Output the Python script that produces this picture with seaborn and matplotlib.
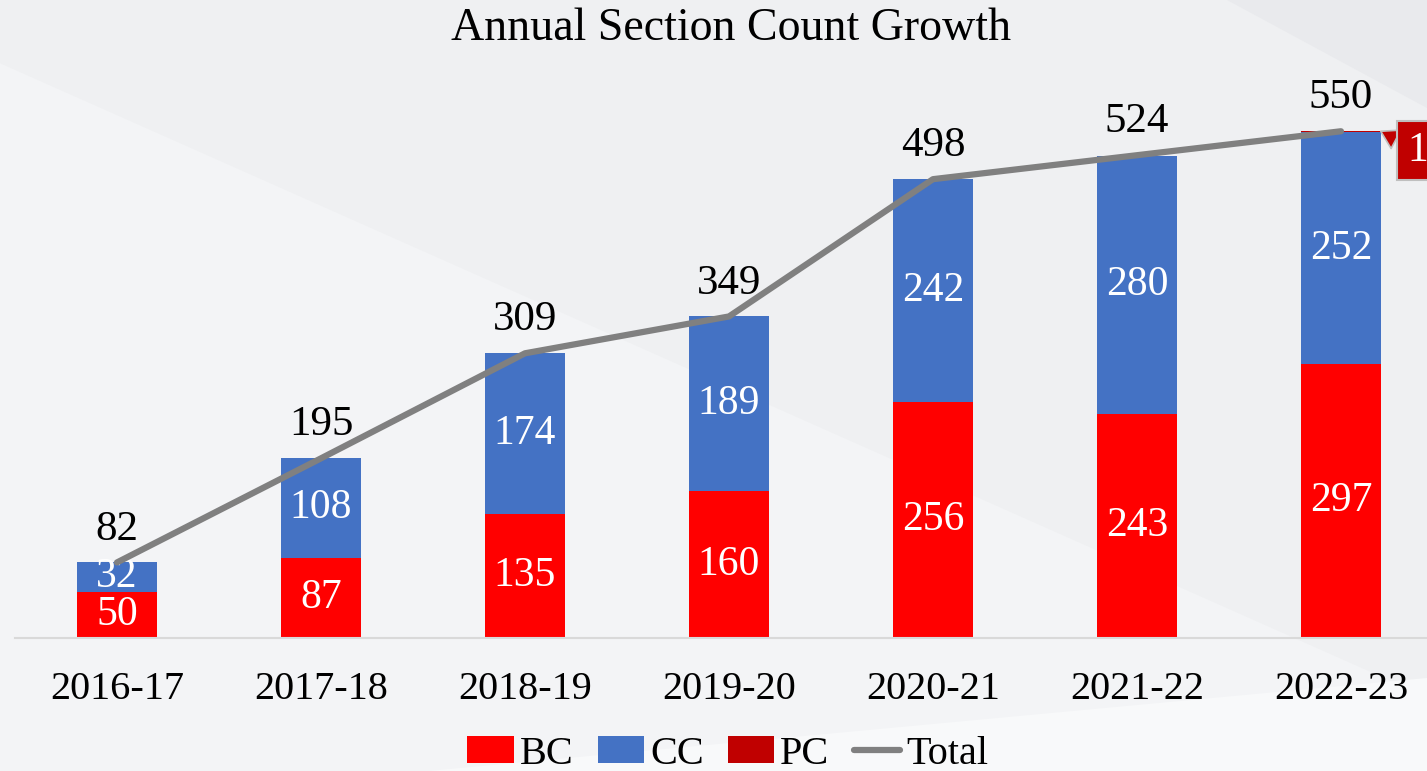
import numpy as np
import pandas as pd
import matplotlib.pyplot as plt
import seaborn as sns
from matplotlib.patches import Patch, Polygon
from matplotlib.lines import Line2D

# ==============================
# DATOS
# ==============================
years = ["2016-17", "2017-18", "2018-19", "2019-20", "2020-21", "2021-22", "2022-23"]
bc = [50, 87, 135, 160, 256, 243, 297]
cc = [32, 108, 174, 189, 242, 280, 252]
pc = [0, 0, 0, 0, 0, 0, 1]
total = [82, 195, 309, 349, 498, 524, 550]

RED = "#ff0000"
BLUE = "#4472c4"
DARK_RED = "#c00000"
GRAY = "#808080"

# ==============================
# CONFIGURACION VISUAL
# ==============================
sns.set_theme(style="white")
plt.rcParams["font.family"] = ["Liberation Serif", "DejaVu Serif"]
plt.rcParams["text.color"] = "black"
plt.rcParams["xtick.color"] = "black"

df = pd.DataFrame({"year": years, "BC": bc, "CC": cc, "PC": pc, "Total": total})
df["bottom_cc"] = df["BC"]
df["bottom_pc"] = df["BC"] + df["CC"]

fig = plt.figure(figsize=(14.27, 7.71), dpi=100, facecolor="#eff0f2")

# fondo con franjas claras
fig.patches.append(Polygon([[0, 0.918], [1, 0.096], [1, 0.0], [0, 0.0]], closed=True,
                           transform=fig.transFigure, fc="#f3f4f6", ec="none", zorder=-2))
fig.patches.append(Polygon([[0.86, 1.0], [1, 1.0], [1, 0.86]], closed=True,
                           transform=fig.transFigure, fc="#e9eaed", ec="none", zorder=-2))
fig.patches.append(Polygon([[0.3, 0.0], [1, 0.0], [1, 0.12]], closed=True,
                           transform=fig.transFigure, fc="#f8f9fa", ec="none", zorder=-2))

ax = fig.add_axes([0.0105, 0.1725, 1.0007, 0.717])
ax.set_facecolor("none")

bar_kw = dict(width=0.39, errorbar=None, saturation=1, linewidth=0, ax=ax)
sns.barplot(data=df, x="year", y="BC", color=RED, **bar_kw)
sns.barplot(data=df, x="year", y="CC", bottom=df["bottom_cc"], color=BLUE, **bar_kw)
sns.barplot(data=df, x="year", y="PC", bottom=df["bottom_pc"], color=DARK_RED, **bar_kw)

sns.lineplot(x=np.arange(len(years)), y=df["Total"], color=GRAY, linewidth=4.5,
             ax=ax, zorder=5)

ax.set_xlim(-0.5, 6.5)
ax.set_ylim(0, 600)
ax.set_xlabel("")
ax.set_ylabel("")
ax.set_yticks([])
for s in ["top", "left", "right"]:
    ax.spines[s].set_visible(False)
ax.spines["bottom"].set_color("#d9d9d9")
ax.spines["bottom"].set_linewidth(1.5)
ax.tick_params(axis="x", length=0, pad=24, labelsize=29, colors="black")

# etiquetas
for i in range(len(years)):
    ax.text(i, bc[i] / 2, str(bc[i]), ha="center", va="center", color="white", fontsize=30)
    ax.text(i, bc[i] + cc[i] / 2, str(cc[i]), ha="center", va="center", color="white",
            fontsize=30)
    ax.annotate(str(total[i]), (i, total[i]), xytext=(0, 10), textcoords="offset points",
                ha="center", va="bottom", fontsize=31, color="black", zorder=6)

# etiqueta PC
ax.annotate(str(pc[6]), xy=(6 + 0.195, bc[6] + cc[6] + pc[6]), xytext=(19, -14),
            textcoords="offset points", ha="left", va="center", color="white", fontsize=30,
            bbox=dict(boxstyle="square,pad=0.25", fc=DARK_RED, ec="#bfbfbf", lw=1.5),
            arrowprops=dict(arrowstyle="wedge,tail_width=0.5", fc=DARK_RED, ec="#bfbfbf",
                            lw=1.2, shrinkA=0, shrinkB=0),
            annotation_clip=False, zorder=7)

fig.text(0.512, 0.963, "Annual Section Count Growth", ha="center", va="center", fontsize=33)

handles = [Patch(fc=RED, ec="none"), Patch(fc=BLUE, ec="none"), Patch(fc=DARK_RED, ec="none"),
           Line2D([0], [0], color=GRAY, lw=4.5)]
fig.legend(handles, ["BC", "CC", "PC", "Total"], loc="center", bbox_to_anchor=(0.51, 0.022),
           ncol=4, frameon=False, fontsize=29, handlelength=1.15, handleheight=0.65,
           handletextpad=0.15, columnspacing=0.6)

fig.savefig("out.png", dpi=100, facecolor=fig.get_facecolor())
